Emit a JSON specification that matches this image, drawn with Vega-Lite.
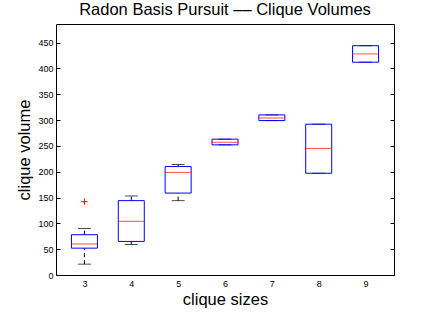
{
  "$schema": "https://vega.github.io/schema/vega-lite/v6.json",
  "width": 338,
  "height": 251,
  "autosize": "none",
  "padding": {"left": 56, "top": 24, "right": 42, "bottom": 53},
  "title": {"text": "Radon Basis Pursuit –– Clique Volumes", "font": "Liberation Sans", "fontSize": 16.5, "fontWeight": "normal", "color": "black", "anchor": "middle", "offset": 6},
  "config": {"view": {"stroke": "black", "strokeWidth": 1}, "font": "Liberation Sans"},
  "datasets": {
    "boxes": [
      {"size": 3, "lo": 21, "q1": 52, "med": 60, "q3": 78, "hi": 90},
      {"size": 4, "lo": 59, "q1": 65, "med": 104, "q3": 144, "hi": 153},
      {"size": 5, "lo": 144, "q1": 158.6, "med": 198.6, "q3": 210, "hi": 214},
      {"size": 6, "lo": 252, "q1": 252, "med": 257, "q3": 263, "hi": 263},
      {"size": 7, "lo": 299, "q1": 299, "med": 304, "q3": 310, "hi": 310},
      {"size": 8, "lo": 197, "q1": 197, "med": 245, "q3": 292, "hi": 292},
      {"size": 9, "lo": 412, "q1": 412, "med": 428, "q3": 444, "hi": 444}
    ],
    "outliers": [
      {"size": 3, "value": 142}
    ]
  },
  "resolve": {"axis": {"y": "independent", "x": "independent"}},
  "layer": [
    {
      "data": {"name": "boxes"},
      "mark": {"type": "rule", "stroke": "black", "strokeWidth": 1, "strokeDash": [4, 3]},
      "encoding": {
        "x": {"field": "size", "type": "quantitative", "scale": {"domain": [2.5, 9.5], "nice": false},
          "axis": {"values": [3, 4, 5, 6, 7, 8, 9], "title": "clique sizes", "titleFont": "Liberation Sans", "titleFontSize": 16.5, "titleFontWeight": "normal", "titleColor": "black", "titlePadding": 3, "labelFontSize": 9, "labelColor": "black", "labelPadding": 4, "ticks": false, "grid": false, "domain": false}},
        "y": {"field": "lo", "type": "quantitative", "scale": {"domain": [0, 486], "nice": false},
          "axis": {"values": [0, 50, 100, 150, 200, 250, 300, 350, 400, 450], "title": "clique volume", "titleFont": "Liberation Sans", "titleFontSize": 16.5, "titleFontWeight": "normal", "titleColor": "black", "titlePadding": 5, "labelFontSize": 9, "labelColor": "black", "tickSize": -4, "tickColor": "black", "labelPadding": 7, "grid": false, "domain": false}},
        "y2": {"field": "q1"}
      }
    },
    {
      "data": {"name": "boxes"},
      "mark": {"type": "rule", "stroke": "black", "strokeWidth": 1, "strokeDash": [4, 3]},
      "encoding": {
        "x": {"field": "size", "type": "quantitative", "axis": null},
        "y": {"field": "q3", "type": "quantitative",
          "axis": {"orient": "right", "values": [0, 50, 100, 150, 200, 250, 300, 350, 400, 450], "labels": false, "title": null, "tickSize": -4, "tickColor": "black", "grid": false, "domain": false}},
        "y2": {"field": "hi"}
      }
    },
    {
      "data": {"name": "boxes"},
      "mark": {"type": "tick", "orient": "horizontal", "size": 13, "thickness": 1, "color": "black"},
      "encoding": {
        "x": {"field": "size", "type": "quantitative", "axis": null},
        "y": {"field": "lo", "type": "quantitative", "axis": null}
      }
    },
    {
      "data": {"name": "boxes"},
      "mark": {"type": "tick", "orient": "horizontal", "size": 13, "thickness": 1, "color": "black"},
      "encoding": {
        "x": {"field": "size", "type": "quantitative", "axis": null},
        "y": {"field": "hi", "type": "quantitative", "axis": null}
      }
    },
    {
      "data": {"name": "boxes"},
      "mark": {"type": "bar", "size": 26, "fill": "white", "fillOpacity": 0, "stroke": "#0000ff", "strokeWidth": 1},
      "encoding": {
        "x": {"field": "size", "type": "quantitative", "axis": null},
        "y": {"field": "q1", "type": "quantitative", "axis": null},
        "y2": {"field": "q3"}
      }
    },
    {
      "data": {"name": "boxes"},
      "mark": {"type": "tick", "orient": "horizontal", "size": 26, "thickness": 1, "color": "#ff0000"},
      "encoding": {
        "x": {"field": "size", "type": "quantitative", "axis": null},
        "y": {"field": "med", "type": "quantitative", "axis": null}
      }
    },
    {
      "data": {"name": "outliers"},
      "mark": {"type": "point", "shape": "M-1,0H1M0,-1V1", "filled": false, "stroke": "#ff0000", "strokeWidth": 1, "size": 40, "opacity": 1},
      "encoding": {
        "x": {"field": "size", "type": "quantitative", "axis": null},
        "y": {"field": "value", "type": "quantitative", "axis": null}
      }
    }
  ]
}
